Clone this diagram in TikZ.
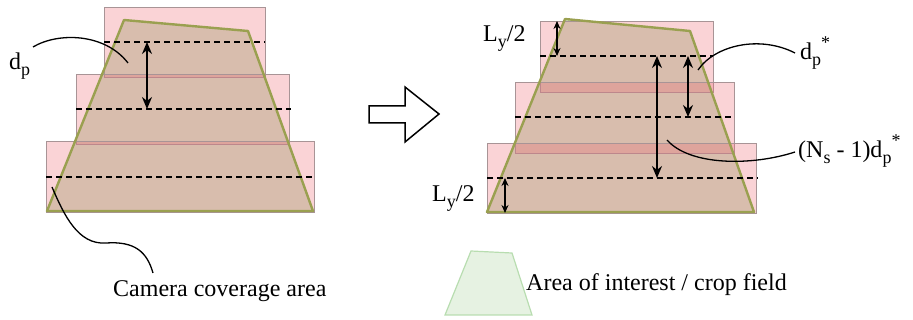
\documentclass[tikz,border=0pt]{standalone}
\usepackage{fontspec}
\setmainfont{Liberation Serif}
\usepackage{tikz}
\usetikzlibrary{arrows.meta,calc}
\definecolor{covred}{HTML}{EE6C76}
\definecolor{covedge}{HTML}{A89496}
\definecolor{aoifill}{HTML}{CFE1C6}
\definecolor{aoiedge}{HTML}{9AA050}
\definecolor{legfill}{HTML}{E6F2E2}
\definecolor{legedge}{HTML}{B8DDB0}
\newcommand{\lsub}[1]{\raisebox{-6pt}{\fontsize{18}{18}\selectfont #1}}
\newcommand{\lsup}[1]{\raisebox{11pt}{\fontsize{18}{18}\selectfont #1}}

\begin{document}
\begin{tikzpicture}[
  x=1pt, y=-1pt,
  font=\fontsize{24}{28}\selectfont,
  cov/.style={draw=covedge, line width=0.8pt, fill=covred, fill opacity=0.3},
  aoi/.style={fill=aoifill},
  aoiline/.style={draw=aoiedge, line width=2.4pt, line join=round},
  leg/.style={draw=legedge, line width=1.2pt, fill=legfill},
  mid/.style={dashed, dash pattern=on 6pt off 4pt, line width=1.3pt},
  dim/.style={{Stealth[length=12pt,width=10pt]}-{Stealth[length=12pt,width=10pt]}, line width=1.7pt},
  half/.style={{Stealth[length=8pt,width=7pt]}-{Stealth[length=8pt,width=7pt]}, line width=1.3pt},
  lead/.style={line width=1.3pt},
  lbl/.style={inner sep=0pt}
]
\useasboundingbox (0,0) rectangle (913,320);

% left: coverage with spacing d_p
\fill[aoi] (124,20) -- (248,31) -- (313,211) -- (47,211) -- cycle;
\draw[cov] (104,7) rectangle (265,77);
\draw[cov] (76,74) rectangle (289,144);
\draw[cov] (46,141) rectangle (314,212);
\draw[aoiline] (124,20) -- (248,31) -- (313,211) -- (47,211) -- cycle;
\draw[mid] (104,42) -- (265,42);
\draw[mid] (76,109) -- (291,109);
\draw[mid] (46,177) -- (314,177);
\draw[dim] (147,42) -- (147,109);

\node[lbl, anchor=base west] (dp) at (9,70) {d\lsub{p}};
\coordinate (dpTip) at (128,63);
\draw[lead] (33,47) .. controls (58,32) and (105,33) .. (dpTip);

\node[lbl, anchor=base west] (cam) at (113,297) {Camera coverage area};
\coordinate (camTip) at (52,187);
\draw[lead] (camTip) .. controls (64,215) and (78,245) .. (106,243)
  .. controls (135,241) and (147,252) .. (153,273);

% hollow arrow
\draw[line width=1.5pt, fill=white] (369,106) -- (405,106) -- (405,87) -- (439,114)
  -- (405,142) -- (405,123) -- (369,123) -- cycle;

% right: optimised spacing d_p*
\fill[aoi] (565,19) -- (690,31) -- (754,212) -- (487,212) -- cycle;
\draw[cov] (540,21) rectangle (713,92);
\draw[cov] (515,82) rectangle (734,153);
\draw[cov] (487,143) rectangle (756,213);
\draw[aoiline] (565,19) -- (690,31) -- (754,212) -- (487,212) -- cycle;
\draw[mid] (540,56) -- (713,56);
\draw[mid] (515,117) -- (734,117);
\draw[mid] (487,178) -- (758,178);
\draw[half] (557,21) -- (557,56);
\draw[half] (505,178) -- (505,213);
\draw[dim] (688,56) -- (688,117);
\draw[dim] (657,56) -- (657,178);

\node[lbl, anchor=base west] (lyTop) at (483,42) {L\lsub{y}/2};
\node[lbl, anchor=base west] (lyBot) at (432,202) {L\lsub{y}/2};
\node[lbl, anchor=base west] (dps) at (800,60) {d\lsub{p}\lsup{*}};
\node[lbl, anchor=base west] (nsd) at (798,158) {(N\lsub{s} - 1)d\lsub{p}\lsup{*}};
\coordinate (dpsTip) at (698,70);
\coordinate (nsdTip) at (667,140);
\draw[lead] (dpsTip) .. controls (715,45) and (760,35) .. (795,53);
\draw[lead] (nsdTip) .. controls (690,166) and (752,166) .. (795,152);

% legend
\draw[leg] (471,251) -- (512,253) -- (532,315) -- (445,315) -- cycle;
\node[lbl, anchor=base west] (aoiLab) at (526,291) {Area of interest / crop field};
\end{tikzpicture}
\end{document}
